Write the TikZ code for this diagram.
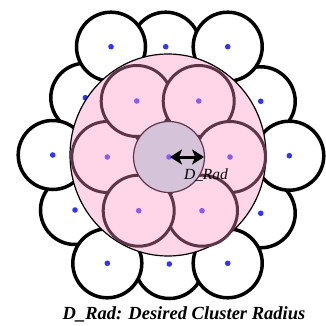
\documentclass[tikz,border=0pt]{standalone}
\usepackage{fontspec}
\setmainfont{Liberation Serif}
\usetikzlibrary{arrows.meta,positioning}

\definecolor{cellpink}{HTML}{FFD6E7}
\definecolor{cellrim}{HTML}{5E3448}
\definecolor{corefill}{HTML}{D5C4D9}
\definecolor{dotblue}{HTML}{3333FF}
\definecolor{dotviolet}{HTML}{8A5CF0}

\tikzset{
  outercell/.style={circle, draw=black, line width=3.5pt, fill=white, minimum size=69pt, inner sep=0pt},
  innercell/.style={circle, draw=cellrim, line width=3pt, fill=cellpink, minimum size=71pt, inner sep=0pt},
  corecell/.style={circle, draw=cellrim, line width=1.2pt, fill=corefill, minimum size=71pt, inner sep=0pt},
  radarrow/.style={{Stealth[length=12pt, width=15pt, inset=3pt]}-{Stealth[length=12pt, width=15pt, inset=3pt]}, line width=3pt, black}
}

\begin{document}
\begin{tikzpicture}[x=1pt, y=-1pt]
  \useasboundingbox (0,0) rectangle (325,326);

  % Outer ring of cells
  \foreach \n/\px/\py in {1/165.7/46.7, 2/169.3/264, 3/85.3/97.7, 4/260.7/101.3,
      5/75/210, 6/260.7/213.3, 7/111/46.7, 8/227.7/46.7, 9/52.7/155,
      10/289.3/155.7, 11/107.3/263.3, 12/227.7/263.3} {
    \node[outercell] (o\n) at (\px,\py) {};
    \fill[dotblue] (o\n.center) circle (2.8);
  }

  % Desired cluster area
  \draw[black, line width=1.2pt, fill=cellpink] (168,155) ellipse [x radius=98, y radius=101];

  % Inner ring of cells
  \foreach \n/\px/\py in {1/107.3/157, 2/136.7/101, 3/198.7/101, 4/230/157,
      5/202/210.7, 6/138.7/210.7} {
    \node[innercell] (i\n) at (\px,\py) {};
    \fill[dotviolet] (i\n.center) circle (2.8);
  }

  % Core cell with radius arrow
  \node[corecell] (core) at (169,157) {};
  \fill[dotviolet] (core.center) circle (2.8);
  \draw[radarrow] ([xshift=1pt]core.center) -- ([xshift=-1pt]core.east);
  \node[font=\fontsize{15.5}{17}\selectfont\itshape] (radlbl) at (206,175) {D\_Rad};

  % Caption
  \node[font=\fontsize{18.5}{20}\selectfont\bfseries\itshape] (caption) at (184,314) {D\_Rad: Desired Cluster Radius};
\end{tikzpicture}
\end{document}
